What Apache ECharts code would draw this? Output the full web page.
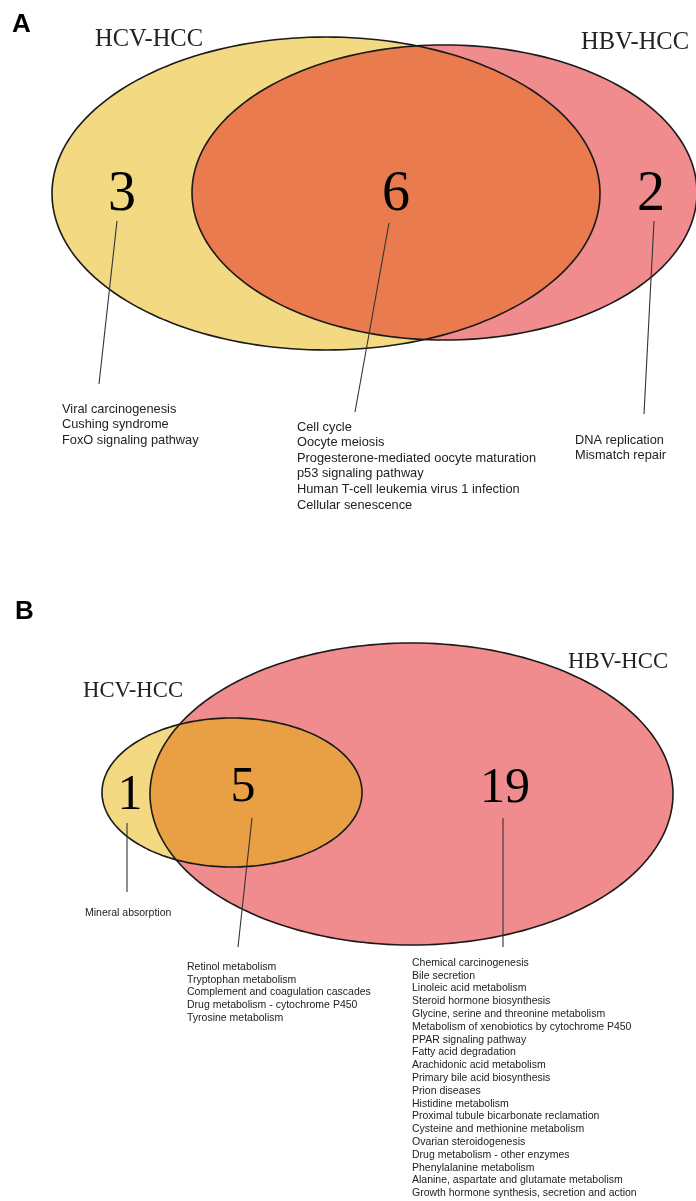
<!DOCTYPE html>
<html><head><meta charset="utf-8">
<script src="https://cdn.jsdelivr.net/npm/echarts@6/dist/echarts.min.js"></script>
<style>html,body{margin:0;padding:0;background:#fff}#c{width:696px;height:1201px}</style>
</head><body><div id="c"></div>
<script>
// ---------- data ----------
const panelLetters = ['A', 'B'];
const setNames = ['HCV-HCC', 'HBV-HCC'];
const countsA = [3, 6, 2];   // HCV only, shared, HBV only
const countsB = [1, 5, 19];
const pathwaysA_HCV = ['Viral carcinogenesis', 'Cushing syndrome', 'FoxO signaling pathway'];
const pathwaysA_shared = ['Cell cycle', 'Oocyte meiosis', 'Progesterone-mediated oocyte maturation',
  'p53 signaling pathway', 'Human T-cell leukemia virus 1 infection', 'Cellular senescence'];
const pathwaysA_HBV = ['DNA replication', 'Mismatch repair'];
const pathwaysB_HCV = ['Mineral absorption'];
const pathwaysB_shared = ['Retinol metabolism', 'Tryptophan metabolism', 'Complement and coagulation cascades',
  'Drug metabolism - cytochrome P450', 'Tyrosine metabolism'];
const pathwaysB_HBV = ['Chemical carcinogenesis', 'Bile secretion', 'Linoleic acid metabolism',
  'Steroid hormone biosynthesis', 'Glycine, serine and threonine metabolism',
  'Metabolism of xenobiotics by cytochrome P450', 'PPAR signaling pathway', 'Fatty acid degradation',
  'Arachidonic acid metabolism', 'Primary bile acid biosynthesis', 'Prion diseases', 'Histidine metabolism',
  'Proximal tubule bicarbonate reclamation', 'Cysteine and methionine metabolism', 'Ovarian steroidogenesis',
  'Drug metabolism - other enzymes', 'Phenylalanine metabolism', 'Alanine, aspartate and glutamate metabolism',
  'Growth hormone synthesis, secretion and action'];

// ---------- layout (positions / sizes, in axis units = px) ----------
const layout = [
  { letter: [12, 25],
    ellipses: [[326, 193.5, 274, 156.5], [444.5, 192.5, 252.5, 147.5]],
    names: [[95, 40], [581, 43]], nameFont: 24.5,
    counts: [[122, 195], [396, 195], [651, 195]], countFont: 56,
    leaders: [[117, 221, 99, 384], [389, 223, 355, 412], [654, 221, 644, 414]],
    lists: [[62, 409], [297, 427], [575, 440]], listFont: 12.8, listGap: 15.6,
    overlap: '#E97B4F' },
  { letter: [15, 612],
    ellipses: [[232, 792.5, 130, 74.5], [411.5, 794, 261.5, 151]],
    names: [[83, 691], [568, 662]], nameFont: 22.7,
    counts: [[130, 796], [243, 788], [505, 789]], countFont: 50,
    leaders: [[127, 823, 127, 892], [252, 818, 238, 947], [503, 818, 503, 947]],
    lists: [[85, 913], [187, 967], [412, 963]], listFont: 10.5, listGap: 12.8,
    overlap: '#E9A044' }
];
const setColors = ['#F2D982', '#F08B8E'];
const counts = [countsA, countsB];
const lists = [[pathwaysA_HCV, pathwaysA_shared, pathwaysA_HBV], [pathwaysB_HCV, pathwaysB_shared, pathwaysB_HBV]];

// ---------- build series data ----------
const ellipseData = [];
layout.forEach((p, pi) => p.ellipses.forEach((e, si) => ellipseData.push([e[0], e[1], e[2], e[3], pi, si])));
const leaderData = [];
layout.forEach(p => p.leaders.forEach(l => leaderData.push(l)));
const texts = [];
const SERIF = '"Liberation Serif","Times New Roman",serif';
const SANS = '"Liberation Sans",Arial,sans-serif';
layout.forEach((p, pi) => {
  texts.push({ x: p.letter[0], y: p.letter[1], t: panelLetters[pi], font: 'bold 26px ' + SANS });
  setNames.forEach((n, i) => texts.push({ x: p.names[i][0], y: p.names[i][1], t: n, font: p.nameFont + 'px ' + SERIF, fill: '#222' }));
  counts[pi].forEach((c, i) => texts.push({ x: p.counts[i][0], y: p.counts[i][1], t: String(c), font: p.countFont + 'px ' + SERIF, align: 'center', fill: '#000' }));
  lists[pi].forEach((arr, i) => arr.forEach((s, k) => texts.push({ x: p.lists[i][0], y: p.lists[i][1] + k * p.listGap, t: s, font: p.listFont + 'px ' + SANS, fill: '#222' })));
});

function ellipsePts(api, e) {
  const c = api.coord([e[0], e[1]]);
  const s = api.size([e[2], e[3]]);
  const rx = Math.abs(s[0]), ry = Math.abs(s[1]);
  const pts = [];
  const N = 200;
  for (let i = 0; i < N; i++) {
    const a = (i / N) * Math.PI * 2;
    pts.push([c[0] + rx * Math.cos(a), c[1] + ry * Math.sin(a)]);
  }
  return pts;
}
function clipPoly(subject, clip) {
  let out = subject;
  const n = clip.length;
  let area = 0;
  for (let i = 0; i < n; i++) { const a = clip[i], b = clip[(i + 1) % n]; area += a[0] * b[1] - b[0] * a[1]; }
  const sgn = area > 0 ? 1 : -1;
  const inside = (p, a, b) => sgn * ((b[0] - a[0]) * (p[1] - a[1]) - (b[1] - a[1]) * (p[0] - a[0])) >= 0;
  const inter = (p, q, a, b) => {
    const x1 = p[0], y1 = p[1], x2 = q[0], y2 = q[1], x3 = a[0], y3 = a[1], x4 = b[0], y4 = b[1];
    const d = (x1 - x2) * (y3 - y4) - (y1 - y2) * (x3 - x4);
    const t = ((x1 - x3) * (y3 - y4) - (y1 - y3) * (x3 - x4)) / d;
    return [x1 + t * (x2 - x1), y1 + t * (y2 - y1)];
  };
  for (let i = 0; i < n; i++) {
    const a = clip[i], b = clip[(i + 1) % n];
    const inp = out; out = [];
    if (!inp.length) break;
    for (let j = 0; j < inp.length; j++) {
      const cur = inp[j], prev = inp[(j + inp.length - 1) % inp.length];
      const ci = inside(cur, a, b), pi = inside(prev, a, b);
      if (ci) { if (!pi) out.push(inter(prev, cur, a, b)); out.push(cur); }
      else if (pi) out.push(inter(prev, cur, a, b));
    }
  }
  return out;
}

const chart = echarts.init(document.getElementById('c'), null, { renderer: 'canvas' });
chart.setOption({
  animation: false,
  backgroundColor: '#fff',
  grid: { left: 0, right: 0, top: 0, bottom: 0 },
  xAxis: { type: 'value', min: 0, max: 696, show: false },
  yAxis: { type: 'value', min: 0, max: 1201, inverse: true, show: false },
  series: [
    { type: 'custom', z: 1, silent: true, data: ellipseData,
      renderItem: (params, api) => {
        const e = ellipseData[params.dataIndex];
        return { type: 'polygon', shape: { points: ellipsePts(api, e) }, style: { fill: setColors[e[5]], stroke: 'none' } };
      } },
    { type: 'custom', z: 2, silent: true, data: layout.map((p, i) => [p.ellipses[0][0], p.ellipses[0][1], i]),
      renderItem: (params, api) => {
        const p = layout[params.dataIndex];
        const a = ellipsePts(api, p.ellipses[0]), b = ellipsePts(api, p.ellipses[1]);
        return { type: 'polygon', shape: { points: clipPoly(a, b) }, style: { fill: p.overlap, stroke: 'none' } };
      } },
    { type: 'custom', z: 3, silent: true, data: ellipseData,
      renderItem: (params, api) => {
        const e = ellipseData[params.dataIndex];
        return { type: 'polygon', shape: { points: ellipsePts(api, e) }, style: { fill: 'none', stroke: '#1a1a1a', lineWidth: 1.6 } };
      } },
    { type: 'custom', z: 4, silent: true, data: leaderData,
      renderItem: (params, api) => {
        const p1 = api.coord([api.value(0), api.value(1)]), p2 = api.coord([api.value(2), api.value(3)]);
        return { type: 'line', shape: { x1: p1[0], y1: p1[1], x2: p2[0], y2: p2[1] }, style: { stroke: '#333', lineWidth: 1.1 } };
      } },
    { type: 'custom', z: 5, silent: true, data: texts.map(t => [t.x, t.y]),
      renderItem: (params, api) => {
        const t = texts[params.dataIndex];
        const p = api.coord([api.value(0), api.value(1)]);
        return { type: 'text', style: { text: t.t, x: p[0], y: p[1], font: t.font, fill: t.fill || '#000',
          textAlign: t.align || 'left', textVerticalAlign: 'middle' } };
      } }
  ]
});
</script></body></html>
